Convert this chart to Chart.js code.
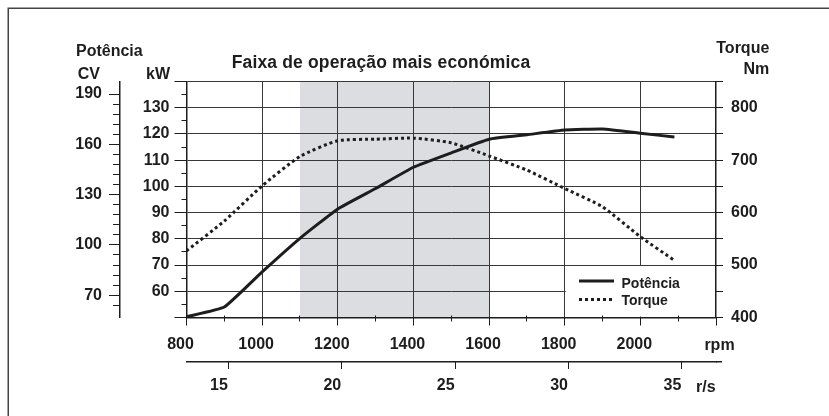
<!DOCTYPE html>
<html>
<head>
<meta charset="utf-8">
<script src="https://cdn.jsdelivr.net/npm/chart.js@4"></script>
<style>
html,body{margin:0;padding:0;background:#fff;}
#wrap{width:829px;height:416px;position:relative;}
</style>
</head>
<body>
<div id="wrap"><canvas id="c" width="829" height="416"></canvas></div>
<script>
// ---- data ----
const rpm        = [800, 900, 1000, 1100, 1200, 1300, 1400, 1500, 1600, 1700, 1800, 1900, 2000, 2090];
const potenciaKW = [50.3, 54, 67.4, 80.2, 91.4, 99.2, 107.3, 112.8, 118, 119.7, 121.5, 121.9, 120.3, 118.8];
const torqueNm   = [527, 584, 651, 707, 737, 740, 742, 733, 708, 681, 646, 611, 554, 509];

const rpmTicks   = [800, 900, 1000, 1100, 1200, 1300, 1400, 1500, 1600, 1700, 1800, 1900, 2000, 2100, 2200];
const rpmLabels  = [800, 1000, 1200, 1400, 1600, 1800, 2000];
const rsTicks    = [15, 20, 25, 30, 35];
const kwTicks    = [50, 55, 60, 65, 70, 75, 80, 85, 90, 95, 100, 105, 110, 115, 120, 125, 130, 135, 140];
const kwLabels   = [60, 70, 80, 90, 100, 110, 120, 130];
const cvTicks    = [64, 70, 76, 82, 88, 94, 100, 106, 112, 118, 124, 130, 136, 142, 148, 154, 160, 166, 172, 178, 184, 190];
const cvLabels   = [70, 100, 130, 160, 190];
const torqueTicks  = [400, 450, 500, 550, 600, 650, 700, 750, 800, 850];
const torqueLabels = [400, 500, 600, 700, 800];
const economyBand  = [1100, 1600];

const seriesNames = ['Potência', 'Torque'];
const chartTitle  = 'Faixa de operação mais económica';

// ---- styles ----
const INK  = '#1d1d1d';
const GRID = '#383838';
const SHADE = '#dcdde0';
const FAM  = '"Liberation Sans", Arial, Helvetica, sans-serif';
const tickFont = {family: FAM, size: 16, weight: 'bold'};

function align(p, w) { return Math.round(p - w / 2) + w / 2; }

const deco = {
  id: 'deco',
  beforeDraw(chart) {
    const {ctx, chartArea: a, scales: {x}} = chart;
    const x0 = x.getPixelForValue(economyBand[0]);
    const x1 = x.getPixelForValue(economyBand[1]);
    ctx.save();
    ctx.fillStyle = SHADE;
    ctx.fillRect(x0, a.top, x1 - x0, a.bottom - a.top);
    ctx.restore();
  },
  beforeDatasetsDraw(chart) {
    const {ctx, chartArea: a, scales: {x, nm}} = chart;
    const bx = x.getPixelForValue(1800) + 1;
    const by = nm.getPixelForValue(500) + 1;
    ctx.save();
    ctx.fillStyle = '#fff';
    ctx.fillRect(bx, by, a.right - bx - 1, a.bottom - by - 1);
    const ds = chart.data.datasets;
    const rows = [281, 299.5];
    const baselines = [288, 305];
    ctx.font = 'bold 14px ' + FAM;
    ctx.textAlign = 'left';
    ctx.textBaseline = 'alphabetic';
    ds.forEach((d, i) => {
      ctx.strokeStyle = d.borderColor;
      ctx.lineWidth = d.borderWidth;
      ctx.setLineDash(d.borderDash || []);
      ctx.beginPath();
      ctx.moveTo(579, rows[i]);
      ctx.lineTo(614, rows[i]);
      ctx.stroke();
      ctx.setLineDash([]);
      ctx.fillStyle = INK;
      ctx.fillText(d.label, 621.5, baselines[i]);
    });
    ctx.restore();
  },
  afterDraw(chart) {
    const {ctx, chartArea: a, scales: {x, xs, kw, cv, nm}} = chart;
    ctx.save();
    ctx.strokeStyle = INK;
    ctx.lineWidth = 1;
    ctx.beginPath();
    kwTicks.forEach(v => {
      const y = align(kw.getPixelForValue(v), 1);
      const len = v % 10 === 0 ? 12 : 5;
      ctx.moveTo(a.left - len, y); ctx.lineTo(a.left, y);
    });
    cvTicks.forEach(v => {
      const y = align(cv.getPixelForValue(v), 1);
      const len = cvLabels.includes(v) ? 11 : 7;
      ctx.moveTo(cv.right - len, y); ctx.lineTo(cv.right, y);
    });
    torqueTicks.forEach(v => {
      const y = align(nm.getPixelForValue(v), 1);
      ctx.moveTo(a.right, y); ctx.lineTo(a.right + 7, y);
    });
    rpmTicks.forEach(v => {
      const px = align(x.getPixelForValue(v), 1);
      const len = v % 200 === 0 ? 8 : 4;
      ctx.moveTo(px, a.bottom - (v % 200 === 0 ? 0 : 2)); ctx.lineTo(px, a.bottom + len);
    });
    rsTicks.forEach(v => {
      const px = align(xs.getPixelForValue(v), 1);
      ctx.moveTo(px, xs.top); ctx.lineTo(px, xs.top + 7);
    });
    ctx.stroke();
    ctx.lineWidth = 1.5;
    ctx.beginPath();
    const ry = align(xs.top, 1.5);
    ctx.moveTo(a.right, ry); ctx.lineTo(a.right + 6, ry);
    ctx.stroke();

    ctx.fillStyle = INK;
    ctx.font = 'bold 16px ' + FAM;
    ctx.textBaseline = 'alphabetic';
    ctx.textAlign = 'center';
    ctx.fillText('Potência', 109.3, 56);
    ctx.fillText('rpm', 719.5, 350);
    ctx.textAlign = 'right';
    ctx.fillText('CV', 100, 79.3);
    ctx.fillText('kW', 170, 79.3);
    ctx.fillText('Torque', 769.3, 53.3);
    ctx.fillText('Nm', 769.3, 74.3);
    ctx.textAlign = 'left';
    ctx.fillText('r/s', 696, 391.7);
    // title
    ctx.font = 'bold 17.5px ' + FAM;
    if ('letterSpacing' in ctx) ctx.letterSpacing = '0.15px';
    ctx.textAlign = 'left';
    const w = ctx.measureText(chartTitle).width;
    ctx.fillText(chartTitle, 381 - w / 2, 68);
    if ('letterSpacing' in ctx) ctx.letterSpacing = '0px';

    ctx.strokeStyle = '#444';
    ctx.lineWidth = 1.5;
    ctx.beginPath();
    ctx.moveTo(8.25, 416); ctx.lineTo(8.25, 8.25); ctx.lineTo(829, 8.25);
    ctx.stroke();
    ctx.restore();
  }
};

function setTicks(list) { return s => { s.ticks = list.map(v => ({value: v})); }; }
const border = {display: true, color: INK, width: 1.5};

new Chart(document.getElementById('c'), {
  type: 'line',
  data: {
    datasets: [
      {
        label: seriesNames[0],
        data: rpm.map((r, i) => ({x: r, y: potenciaKW[i]})),
        yAxisID: 'kw', xAxisID: 'x',
        borderColor: INK, borderWidth: 3, pointRadius: 0,
        tension: 0.12, fill: false
      },
      {
        label: seriesNames[1],
        data: rpm.map((r, i) => ({x: r, y: torqueNm[i]})),
        yAxisID: 'nm', xAxisID: 'x',
        borderColor: INK, borderWidth: 3, borderDash: [3, 3], pointRadius: 0,
        tension: 0.2, fill: false
      }
    ]
  },
  options: {
    responsive: false,
    animation: false,
    devicePixelRatio: 1,
    layout: {padding: {top: 81.5, left: 20, right: 40, bottom: 10}},
    plugins: {legend: {display: false}, tooltip: {enabled: false}, title: {display: false}},
    scales: {
      x: {
        type: 'linear', position: 'bottom', weight: 0, min: 800, max: 2200,
        afterBuildTicks: setTicks(rpmTicks),
        afterFit: s => { s.height = 44.5; },
        ticks: {autoSkip: false, maxRotation: 0, padding: 17, labelOffset: -6, font: tickFont, color: INK,
                callback: v => rpmLabels.includes(v) ? String(v) : ''},
        grid: {drawTicks: false, lineWidth: 1,
               color: c => (c.tick && c.tick.value % 200 === 0 && c.tick.value !== 800 && c.tick.value !== 2200) ? GRID : 'rgba(0,0,0,0)'},
        border
      },
      xs: {
        type: 'linear', position: 'bottom', weight: 1, min: 13.15, max: 36.5,
        afterBuildTicks: setTicks(rsTicks),
        afterFit: s => { s.height = 44; },
        ticks: {autoSkip: false, maxRotation: 0, padding: 14, labelOffset: -9.5, font: tickFont, color: INK,
                callback: v => String(v)},
        grid: {drawOnChartArea: false, drawTicks: false, color: 'rgba(0,0,0,0)'},
        border
      },
      kw: {
        type: 'linear', position: 'left', weight: 0, min: 50, max: 140,
        afterBuildTicks: setTicks(kwTicks),
        afterFit: s => { s.width = 66.5; },
        ticks: {autoSkip: false, padding: 17, font: tickFont, color: INK,
                callback: v => kwLabels.includes(v) ? String(v) : ''},
        grid: {drawTicks: false, lineWidth: 1,
               color: c => (c.tick && c.tick.value % 10 === 0 && c.tick.value !== 50) ? GRID : 'rgba(0,0,0,0)'},
        border
      },
      cv: {
        type: 'linear', position: 'left', weight: 1, min: 56.7, max: 197.5,
        afterBuildTicks: setTicks(cvTicks),
        afterFit: s => { s.width = 100; },
        ticks: {autoSkip: false, padding: 18, font: tickFont, color: INK,
                callback: v => cvLabels.includes(v) ? String(v) : ''},
        grid: {drawOnChartArea: false, drawTicks: false, color: 'rgba(0,0,0,0)'},
        border
      },
      nm: {
        type: 'linear', position: 'right', weight: 0, min: 400, max: 850,
        afterBuildTicks: setTicks(torqueTicks),
        afterFit: s => { s.width = 73; },
        ticks: {autoSkip: false, padding: 15, font: tickFont, color: INK,
                callback: v => torqueLabels.includes(v) ? String(v) : ''},
        grid: {drawOnChartArea: false, drawTicks: false, color: 'rgba(0,0,0,0)'},
        border
      }
    }
  },
  plugins: [deco]
});
</script>
</body>
</html>
